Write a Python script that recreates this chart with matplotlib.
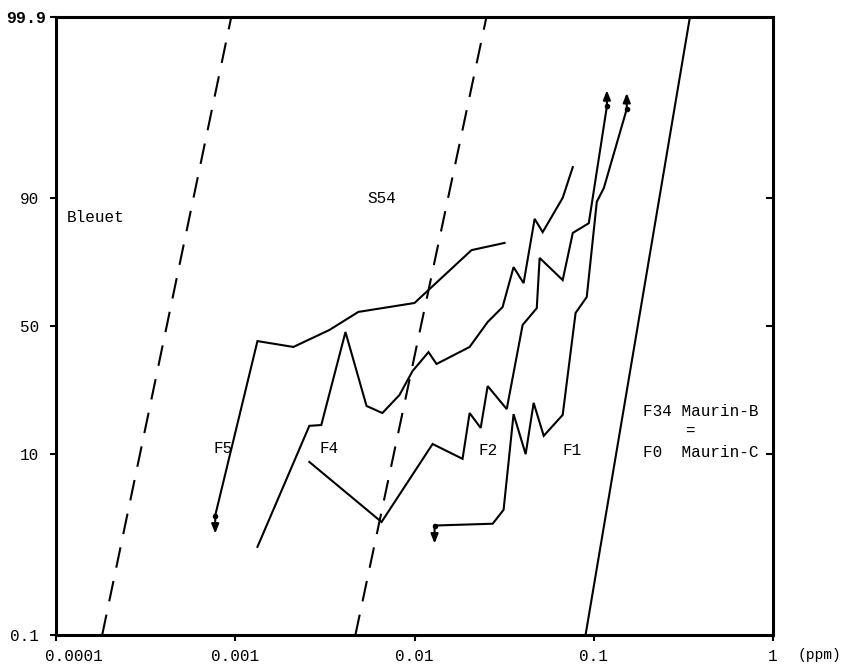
import math
import numpy as np
import matplotlib
matplotlib.use("Agg")
import matplotlib.pyplot as plt
import matplotlib.transforms as mtransforms
from matplotlib.ticker import FixedLocator, FixedFormatter, NullLocator

# ---------------- data (ppm, cumulative %) ----------------
f5_x = [7.73e-4, 1.33e-3, 2.11e-3, 3.35e-3, 4.86e-3, 0.0100, 0.0208, 0.0318]
f5_y = [2.9, 44.0, 41.7, 48.4, 55.6, 59.1, 77.6, 79.7]

f4_x = [1.33e-3, 2.59e-3, 3.02e-3, 4.12e-3, 5.40e-3, 6.62e-3, 8.24e-3, 9.75e-3,
        0.01197, 0.01327, 0.0203, 0.0256, 0.0310, 0.0357, 0.0406, 0.0468,
        0.0519, 0.0671, 0.0764]
f4_y = [1.36, 15.9, 16.1, 47.6, 21.2, 19.2, 24.5, 32.6,
        39.7, 35.2, 41.7, 51.6, 57.5, 72.2, 66.6, 85.8,
        82.6, 90.0, 94.4]

f2_x = [2.59e-3, 6.55e-3, 0.01262, 0.01854, 0.0203, 0.0234, 0.0256, 0.0327,
        0.0401, 0.0481, 0.0499, 0.0671, 0.0764, 0.0938, 0.1184]
f2_y = [8.7, 2.5, 11.9, 9.2, 19.2, 15.4, 27.4, 20.3,
        50.4, 57.1, 75.2, 67.7, 82.4, 84.8, 98.6]

f1_x = [0.01294, 0.0273, 0.0314, 0.0357, 0.0417, 0.0462, 0.0526, 0.0671,
        0.0792, 0.0914, 0.104, 0.1138, 0.1528]
f1_y = [2.3, 2.4, 3.3, 18.9, 10.0, 22.1, 13.6, 18.7,
        55.2, 61.4, 89.3, 91.6, 98.5]

bleuet_x = [1.81e-4, 9.5e-4]
bleuet_y = [0.1, 99.9]
s54_x = [4.68e-3, 0.0252]
s54_y = [0.1, 99.9]
f34_x = [0.090, 0.344]
f34_y = [0.1, 99.9]

y_ticks = [0.1, 10, 50, 90, 99.9]
y_ticklabels = ["0.1", "10", "50", "90", "99.9"]
x_ticks = [1e-4, 1e-3, 1e-2, 1e-1, 1]
x_ticklabels = ["0.0001", "0.001", "0.01", "0.1", "1"]

# ---------------- probability (probit) scale ----------------
_a = [-3.969683028665376e+01, 2.209460984245205e+02, -2.759285104469687e+02,
      1.383577518672690e+02, -3.066479806614716e+01, 2.506628277459239e+00]
_b = [-5.447609879822406e+01, 1.615858368580409e+02, -1.556989798598866e+02,
      6.680131188771972e+01, -1.328068155288572e+01]
_c = [-7.784894002430293e-03, -3.223964580411365e-01, -2.400758277161838e+00,
      -2.549732539343734e+00, 4.374664141464968e+00, 2.938163982698783e+00]
_d = [7.784695709041462e-03, 3.224671290700398e-01, 2.445134137142996e+00,
      3.754408661907416e+00]


def _ppf(p):
    p = np.asarray(p, dtype=float)
    plow = 0.02425
    out = np.empty_like(p)
    lo = p < plow
    hi = p > 1 - plow
    mid = ~(lo | hi)
    with np.errstate(all="ignore"):
        q = np.sqrt(-2 * np.log(p[lo]))
        out[lo] = (((((_c[0]*q+_c[1])*q+_c[2])*q+_c[3])*q+_c[4])*q+_c[5]) / \
                  ((((_d[0]*q+_d[1])*q+_d[2])*q+_d[3])*q+1)
        q = np.sqrt(-2 * np.log(1 - p[hi]))
        out[hi] = -(((((_c[0]*q+_c[1])*q+_c[2])*q+_c[3])*q+_c[4])*q+_c[5]) / \
                  ((((_d[0]*q+_d[1])*q+_d[2])*q+_d[3])*q+1)
        q = p[mid] - 0.5
        r = q * q
        out[mid] = (((((_a[0]*r+_a[1])*r+_a[2])*r+_a[3])*r+_a[4])*r+_a[5])*q / \
                   (((((_b[0]*r+_b[1])*r+_b[2])*r+_b[3])*r+_b[4])*r+1)
    return out


_erf = np.vectorize(math.erf, otypes=[float])


def prob_fwd(pct):
    p = np.clip(np.asarray(pct, dtype=float) / 100.0, 1e-9, 1 - 1e-9)
    return _ppf(p)


def prob_inv(z):
    z = np.asarray(z, dtype=float)
    return 100.0 * 0.5 * (1 + _erf(z / math.sqrt(2)))


# ---------------- figure ----------------
mono = ["Liberation Mono", "DejaVu Sans Mono"]
plt.rcParams["font.family"] = mono

fig = plt.figure(figsize=(8.56, 6.68), dpi=100)
L, R, B, T = 56 / 856, 773 / 856, 1 - 635 / 668, 1 - 17 / 668
ax = fig.add_axes([L, B, R - L, T - B])

ax.set_xscale("log")
ax.set_yscale("function", functions=(prob_fwd, prob_inv))
ax.set_xlim(1e-4, 1)
ax.set_ylim(0.1, 99.9)

lw = 1.5
dash = (0, (10, 6.5))
ax.plot(bleuet_x, bleuet_y, color="black", lw=lw, linestyle=dash)
ax.plot(s54_x, s54_y, color="black", lw=lw, linestyle=dash)
ax.plot(f34_x, f34_y, color="black", lw=lw)

for xs, ys in [(f5_x, f5_y), (f4_x, f4_y), (f2_x, f2_y), (f1_x, f1_y)]:
    ax.plot(xs, ys, color="black", lw=lw, solid_joinstyle="miter")


def arrow(x, y, dy_px):
    trans = ax.transData + mtransforms.ScaledTranslation(0, dy_px / 100.0,
                                                         fig.dpi_scale_trans)
    ax.plot([x], [y], "o", color="black", ms=3)
    ax.annotate("", xy=(x, y), xycoords=trans, xytext=(x, y), textcoords="data",
                arrowprops=dict(arrowstyle="-|>,head_length=0.55,head_width=0.22",
                                color="black", lw=lw, shrinkA=0, shrinkB=0))


arrow(f5_x[0], f5_y[0], -18)
arrow(f1_x[0], f1_y[0], -18)
arrow(f2_x[-1], f2_y[-1], 16)
arrow(f1_x[-1], f1_y[-1], 16)

# ---------------- axes styling ----------------
for s in ax.spines.values():
    s.set_linewidth(2.2)

ax.yaxis.set_major_locator(FixedLocator(y_ticks))
ax.yaxis.set_major_formatter(FixedFormatter(y_ticklabels))
ax.yaxis.set_minor_locator(NullLocator())
ax.xaxis.set_major_locator(FixedLocator(x_ticks))
ax.xaxis.set_major_formatter(FixedFormatter(x_ticklabels))
ax.xaxis.set_minor_locator(NullLocator())

ax.tick_params(axis="y", which="major", direction="out", length=4, width=1.5,
               labelsize=11.5, pad=8)
ax.tick_params(axis="x", which="major", direction="out", length=4, width=1.5,
               labelsize=11.5, pad=6)

# inward ticks on the right spine
rtrans = mtransforms.blended_transform_factory(ax.transAxes, ax.transData)
ax.plot([1.0] * 3, y_ticks[1:4], linestyle="none", marker=0, ms=5, mew=1.5,
        color="black", transform=rtrans, clip_on=False)

for lab in ax.get_yticklabels():
    if lab.get_text() == "99.9":
        lab.set_fontweight("bold")
        lab.set_fontsize(12)
        lab.set_transform(lab.get_transform() +
                          mtransforms.ScaledTranslation(0.07, 0, fig.dpi_scale_trans))

xl = ax.get_xticklabels()
xl[0].set_transform(xl[0].get_transform() +
                    mtransforms.ScaledTranslation(0.18, 0, fig.dpi_scale_trans))

# ---------------- labels ----------------
fs = 11.5
def lbl(xf, yf, s, ha="left"):
    ax.text(xf, yf, s, transform=ax.transAxes, fontsize=fs, ha=ha, va="center")

lbl(0.0154, 0.676, "Bleuet")
lbl(0.434, 0.706, "S54")
lbl(0.220, 0.301, "F5")
lbl(0.368, 0.301, "F4")
lbl(0.589, 0.298, "F2")
lbl(0.706, 0.298, "F1")
lbl(0.819, 0.361, "F34 Maurin-B")
lbl(0.884, 0.329, "=", ha="center")
lbl(0.819, 0.296, "F0  Maurin-C")

fig.text(798 / 856, 1 - 655 / 668, "(ppm)", fontsize=10.5, ha="left", va="center")

fig.savefig("out.png", dpi=100)
